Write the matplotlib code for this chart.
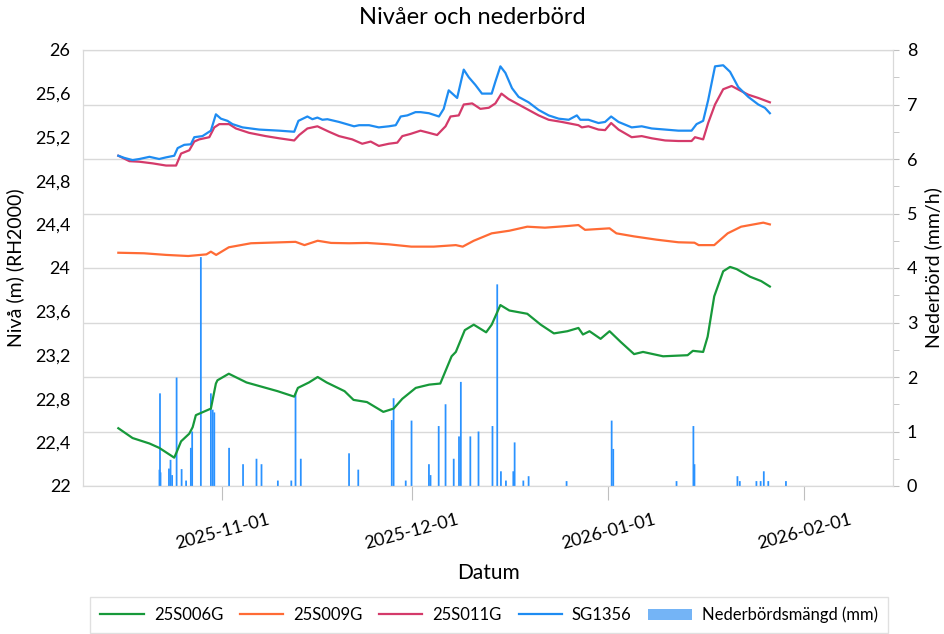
import matplotlib
matplotlib.use('Agg')
import matplotlib.pyplot as plt
import matplotlib.dates as mdates
from matplotlib.patches import Patch
from matplotlib.ticker import MultipleLocator, FuncFormatter
import pandas as pd

plt.rcParams['font.family'] = ['Lato', 'DejaVu Sans']

# 25S006G
t_006 = ['2025-10-15 14:00', '2025-10-17 20:00', '2025-10-20 12:00', '2025-10-22 01:00',
         '2025-10-24 10:00', '2025-10-24 19:00', '2025-10-25 12:00', '2025-10-26 19:00',
         '2025-10-27 08:00', '2025-10-27 20:00', '2025-10-29 10:00', '2025-10-30 05:00',
         '2025-10-31 00:00', '2025-10-31 06:00', '2025-11-02 01:00', '2025-11-04 20:00',
         '2025-11-09 18:00', '2025-11-12 09:00', '2025-11-12 23:00', '2025-11-14 17:00',
         '2025-11-16 02:00', '2025-11-17 12:00', '2025-11-20 08:00', '2025-11-21 18:00',
         '2025-11-23 21:00', '2025-11-26 11:00', '2025-11-28 02:00', '2025-11-29 11:00',
         '2025-12-01 14:00', '2025-12-03 17:00', '2025-12-05 11:00', '2025-12-07 06:00',
         '2025-12-07 22:00', '2025-12-09 08:00', '2025-12-10 18:00', '2025-12-12 17:00',
         '2025-12-13 14:00', '2025-12-14 23:00', '2025-12-16 09:00', '2025-12-19 05:00',
         '2025-12-21 08:00', '2025-12-23 10:00', '2025-12-25 13:00', '2025-12-27 07:00',
         '2025-12-28 00:00', '2025-12-29 01:00', '2025-12-30 19:00', '2026-01-01 05:00',
         '2026-01-03 00:00', '2026-01-05 02:00', '2026-01-06 12:00', '2026-01-09 16:00',
         '2026-01-13 13:00', '2026-01-14 09:00', '2026-01-16 00:00', '2026-01-16 17:00',
         '2026-01-17 18:00', '2026-01-19 04:00', '2026-01-20 06:00', '2026-01-21 07:00',
         '2026-01-23 10:00', '2026-01-25 04:00', '2026-01-26 13:00']
niva_006 = [22.53, 22.44, 22.39, 22.35, 22.26, 22.31, 22.41, 22.48,
            22.54, 22.65, 22.69, 22.71, 22.94, 22.97, 23.03, 22.95,
            22.87, 22.82, 22.90, 22.95, 23.00, 22.95, 22.87, 22.79,
            22.77, 22.68, 22.71, 22.80, 22.90, 22.93, 22.94, 23.19,
            23.23, 23.43, 23.48, 23.41, 23.48, 23.66, 23.61, 23.58,
            23.48, 23.40, 23.42, 23.45, 23.39, 23.42, 23.35, 23.42,
            23.32, 23.21, 23.23, 23.19, 23.20, 23.24, 23.23, 23.37,
            23.74, 23.97, 24.01, 23.99, 23.92, 23.88, 23.83]

# 25S009G
t_009 = ['2025-10-15 14:00', '2025-10-19 15:00', '2025-10-23 04:00', '2025-10-26 15:00',
         '2025-10-29 12:00', '2025-10-30 05:00', '2025-10-31 01:00', '2025-11-02 01:00',
         '2025-11-05 13:00', '2025-11-12 14:00', '2025-11-14 00:00', '2025-11-16 02:00',
         '2025-11-18 05:00', '2025-11-21 01:00', '2025-11-23 21:00', '2025-11-27 08:00',
         '2025-11-30 21:00', '2025-12-04 10:00', '2025-12-07 22:00', '2025-12-09 00:00',
         '2025-12-10 18:00', '2025-12-13 14:00', '2025-12-16 09:00', '2025-12-19 05:00',
         '2025-12-22 00:00', '2025-12-25 13:00', '2025-12-27 07:00', '2025-12-28 08:00',
         '2026-01-01 05:00', '2026-01-02 07:00', '2026-01-05 02:00', '2026-01-08 15:00',
         '2026-01-12 02:00', '2026-01-14 15:00', '2026-01-15 07:00', '2026-01-17 18:00',
         '2026-01-19 21:00', '2026-01-22 00:00', '2026-01-25 12:00', '2026-01-26 13:00']
niva_009 = [24.14, 24.135, 24.12, 24.11,
            24.125, 24.15, 24.12, 24.19,
            24.227, 24.24, 24.21, 24.25,
            24.23, 24.227, 24.23, 24.217,
            24.196, 24.196, 24.21, 24.196,
            24.25, 24.318, 24.342, 24.379,
            24.37, 24.385, 24.394, 24.35,
            24.364, 24.318, 24.29, 24.26,
            24.236, 24.232, 24.21, 24.21,
            24.318, 24.379, 24.416, 24.40]

# 25S011G
t_011 = ['2025-10-15 14:00', '2025-10-17 08:00', '2025-10-18 22:00', '2025-10-21 00:00',
         '2025-10-23 03:00', '2025-10-24 17:00', '2025-10-25 12:00', '2025-10-26 19:00',
         '2025-10-27 14:00', '2025-10-28 09:00', '2025-10-29 23:00', '2025-10-30 18:00',
         '2025-10-31 13:00', '2025-11-02 02:00', '2025-11-03 04:00', '2025-11-05 06:00',
         '2025-11-07 21:00', '2025-11-10 00:00', '2025-11-12 09:00', '2025-11-13 04:00',
         '2025-11-14 11:00', '2025-11-16 01:00', '2025-11-17 21:00', '2025-11-19 11:00',
         '2025-11-21 13:00', '2025-11-23 03:00', '2025-11-24 11:00', '2025-11-25 18:00',
         '2025-11-27 08:00', '2025-11-28 16:00', '2025-11-29 11:00', '2025-11-30 18:00',
         '2025-12-02 08:00', '2025-12-03 16:00', '2025-12-04 23:00', '2025-12-06 07:00',
         '2025-12-07 02:00', '2025-12-08 09:00', '2025-12-09 04:00', '2025-12-10 12:00',
         '2025-12-11 19:00', '2025-12-13 03:00', '2025-12-14 04:00', '2025-12-15 03:00',
         '2025-12-16 06:00', '2025-12-17 20:00', '2025-12-19 10:00', '2025-12-21 00:00',
         '2025-12-22 14:00', '2025-12-24 16:00', '2025-12-27 07:00', '2025-12-27 20:00',
         '2025-12-28 21:00', '2025-12-30 11:00', '2025-12-31 12:00', '2026-01-01 11:00',
         '2026-01-02 15:00', '2026-01-04 17:00', '2026-01-06 07:00', '2026-01-07 21:00',
         '2026-01-10 00:00', '2026-01-12 02:00', '2026-01-14 04:00', '2026-01-14 17:00',
         '2026-01-16 00:00', '2026-01-16 19:00', '2026-01-17 21:00', '2026-01-19 04:00',
         '2026-01-20 12:00', '2026-01-21 19:00', '2026-01-23 03:00', '2026-01-24 17:00',
         '2026-01-26 13:00']
niva_011 = [25.03, 24.98, 24.975, 24.96,
            24.94, 24.94, 25.05, 25.08,
            25.16, 25.18, 25.20, 25.29,
            25.32, 25.32, 25.28, 25.24,
            25.21, 25.19, 25.17, 25.22,
            25.28, 25.30, 25.25, 25.21,
            25.18, 25.14, 25.16, 25.12,
            25.14, 25.15, 25.21, 25.23,
            25.26, 25.24, 25.22, 25.30,
            25.39, 25.40, 25.50, 25.51,
            25.46, 25.47, 25.51, 25.60,
            25.55, 25.50, 25.45, 25.40,
            25.36, 25.34, 25.31, 25.29,
            25.30, 25.27, 25.265, 25.33,
            25.27, 25.20, 25.21, 25.19,
            25.17, 25.165, 25.165, 25.20,
            25.18, 25.33, 25.50, 25.64,
            25.67, 25.63, 25.59, 25.56,
            25.52]

# SG1356
t_sg = ['2025-10-15 14:00', '2025-10-16 13:00', '2025-10-17 20:00', '2025-10-18 22:00',
        '2025-10-20 12:00', '2025-10-22 01:00', '2025-10-23 03:00', '2025-10-24 10:00',
        '2025-10-24 23:00', '2025-10-26 00:00', '2025-10-27 01:00', '2025-10-27 14:00',
        '2025-10-28 21:00', '2025-10-30 05:00', '2025-10-31 00:00', '2025-10-31 19:00',
        '2025-11-01 20:00', '2025-11-02 15:00', '2025-11-04 05:00', '2025-11-06 20:00',
        '2025-11-10 00:00', '2025-11-12 09:00', '2025-11-13 01:00', '2025-11-14 11:00',
        '2025-11-15 06:00', '2025-11-16 01:00', '2025-11-16 20:00', '2025-11-17 15:00',
        '2025-11-19 11:00', '2025-11-21 20:00', '2025-11-22 15:00', '2025-11-24 05:00',
        '2025-11-25 18:00', '2025-11-27 08:00', '2025-11-28 10:00', '2025-11-29 05:00',
        '2025-11-30 06:00', '2025-12-01 13:00', '2025-12-02 08:00', '2025-12-03 16:00',
        '2025-12-05 06:00', '2025-12-06 00:00', '2025-12-06 19:00', '2025-12-08 03:00',
        '2025-12-09 04:00', '2025-12-09 23:00', '2025-12-11 00:00', '2025-12-12 01:00',
        '2025-12-13 14:00', '2025-12-14 04:00', '2025-12-14 23:00', '2025-12-15 18:00',
        '2025-12-16 19:00', '2025-12-17 20:00', '2025-12-19 10:00', '2025-12-21 00:00',
        '2025-12-22 14:00', '2025-12-24 04:00', '2025-12-25 18:00', '2025-12-27 01:00',
        '2025-12-27 14:00', '2025-12-28 21:00', '2025-12-30 11:00', '2025-12-31 12:00',
        '2026-01-01 11:00', '2026-01-02 15:00', '2026-01-04 17:00', '2026-01-06 07:00',
        '2026-01-07 21:00', '2026-01-10 00:00', '2026-01-12 02:00', '2026-01-14 04:00',
        '2026-01-14 23:00', '2026-01-16 00:00', '2026-01-16 19:00', '2026-01-17 21:00',
        '2026-01-19 04:00', '2026-01-20 06:00', '2026-01-21 13:00', '2026-01-23 03:00',
        '2026-01-24 17:00', '2026-01-25 18:00', '2026-01-26 13:00']
niva_sg = [25.03, 25.01, 24.99, 25.00,
           25.02, 25.00, 25.015, 25.03,
           25.10, 25.13, 25.135, 25.20,
           25.21, 25.26, 25.41, 25.37,
           25.35, 25.32, 25.29, 25.27,
           25.26, 25.25, 25.35, 25.39,
           25.365, 25.38, 25.36, 25.365,
           25.34, 25.30, 25.31, 25.31,
           25.29, 25.30, 25.31, 25.39,
           25.40, 25.43, 25.43, 25.42,
           25.39, 25.46, 25.63, 25.56,
           25.82, 25.75, 25.68, 25.60,
           25.60, 25.71, 25.85, 25.79,
           25.65, 25.57, 25.52, 25.45,
           25.40, 25.37, 25.36, 25.40,
           25.36, 25.36, 25.33, 25.34,
           25.39, 25.34, 25.29, 25.30,
           25.28, 25.27, 25.26, 25.26,
           25.32, 25.35, 25.54, 25.85,
           25.86, 25.80, 25.66, 25.57,
           25.50, 25.47, 25.42]

# Nederbörd (mm/h)
t_regn = ['2025-10-22 02:00', '2025-10-22 04:00', '2025-10-22 06:00', '2025-10-23 14:00',
          '2025-10-23 20:00', '2025-10-24 02:00', '2025-10-24 19:00', '2025-10-25 14:00',
          '2025-10-26 07:00', '2025-10-27 01:00', '2025-10-27 06:00', '2025-10-28 15:00',
          '2025-10-30 05:00', '2025-10-30 12:00', '2025-10-30 18:00', '2025-11-02 02:00',
          '2025-11-04 07:00', '2025-11-06 10:00', '2025-11-07 05:00', '2025-11-09 19:00',
          '2025-11-11 22:00', '2025-11-12 14:00', '2025-11-13 10:00', '2025-11-21 01:00',
          '2025-11-22 12:00', '2025-11-27 19:00', '2025-11-28 02:00', '2025-11-30 00:00',
          '2025-11-30 22:00', '2025-12-03 16:00', '2025-12-03 22:00', '2025-12-05 05:00',
          '2025-12-06 07:00', '2025-12-07 14:00', '2025-12-08 10:00', '2025-12-08 17:00',
          '2025-12-10 05:00', '2025-12-11 12:00', '2025-12-13 17:00', '2025-12-14 11:00',
          '2025-12-15 01:00', '2025-12-15 20:00', '2025-12-17 00:00', '2025-12-17 05:00',
          '2025-12-18 14:00', '2025-12-19 10:00', '2025-12-25 10:00', '2026-01-01 13:00',
          '2026-01-01 19:00', '2026-01-11 19:00', '2026-01-14 11:00', '2026-01-14 15:00',
          '2026-01-21 10:00', '2026-01-21 19:00', '2026-01-24 10:00', '2026-01-25 02:00',
          '2026-01-25 14:00', '2026-01-26 07:00', '2026-01-29 02:00']
regn = [0.30, 1.70, 0.25, 0.32,
        0.48, 0.20, 1.99, 0.31,
        0.10, 0.70, 1.00, 4.20,
        1.70, 1.40, 1.35, 0.70,
        0.40, 0.50, 0.40, 0.10,
        0.10, 1.70, 0.50, 0.60,
        0.30, 1.21, 1.61, 0.10,
        1.20, 0.40, 0.20, 1.10,
        1.50, 0.50, 0.91, 1.91,
        0.91, 1.00, 1.10, 3.70,
        0.27, 0.10, 0.27, 0.80,
        0.10, 0.18, 0.09, 1.20,
        0.68, 0.09, 1.10, 0.40,
        0.18, 0.09, 0.09, 0.09,
        0.27, 0.09, 0.09]

serier = [('25S006G', t_006, niva_006, '#17993A'),
          ('25S009G', t_009, niva_009, '#FF6B35'),
          ('25S011G', t_011, niva_011, '#D43A6A'),
          ('SG1356', t_sg, niva_sg, '#1E8CF2')]

grid_c = '#D9D9D9'
tick_c = '#BFBFBF'

fig = plt.figure(figsize=(9.44, 6.34), dpi=100)
ax = fig.add_axes([83 / 944, 1 - 486 / 634, 810 / 944, 436 / 634])
ax2 = ax.twinx()
ax.set_zorder(ax2.get_zorder() + 1)
ax.patch.set_visible(False)

staplar = ax2.bar(pd.to_datetime(t_regn), regn, width=0.28, color='#2A92FF', linewidth=0)
for s in staplar:
    s.set_snap(False)

handles = []
for namn, t, v, c in serier:
    h, = ax.plot(pd.to_datetime(t), v, color=c, lw=1.6)
    handles.append(h)
handles.append(Patch(facecolor='#74B4F6', edgecolor='none'))
labels = [s[0] for s in serier] + ['Nederbördsmängd (mm)']

ax.set_xlim(pd.Timestamp('2025-10-10'), pd.Timestamp('2026-02-15'))
ax.set_ylim(22, 26)
ax2.set_ylim(0, 8)

ax.yaxis.set_major_locator(MultipleLocator(0.4))
ax.yaxis.set_major_formatter(FuncFormatter(
    lambda v, p: f'{v:.1f}'.rstrip('0').rstrip('.').replace('.', ',')))
ax.tick_params(axis='y', length=0, labelsize=13, pad=9)

ax2.yaxis.set_major_locator(MultipleLocator(1))
ax2.yaxis.set_minor_locator(MultipleLocator(0.5))
ax2.tick_params(axis='y', which='both', length=4, color=tick_c, labelsize=13, pad=6)
ax2.grid(axis='y', which='major', color=grid_c, lw=1)
ax2.set_axisbelow(True)

ax.xaxis.set_major_locator(mdates.MonthLocator(bymonthday=1))
ax.xaxis.set_major_formatter(mdates.DateFormatter('%Y-%m-%d'))
ax.tick_params(axis='x', length=10, color=tick_c, labelsize=13, pad=8)
plt.setp(ax.get_xticklabels(), rotation=15, ha='center')

for a in (ax, ax2):
    for s in a.spines.values():
        s.set_color(grid_c)

ax.set_xlabel('Datum', fontsize=15, labelpad=8)
ax.set_ylabel('Nivå (m) (RH2000)', fontsize=14, labelpad=8)
ax2.set_ylabel('Nederbörd (mm/h)', fontsize=14, labelpad=5)

fig.text(0.5, 1 - 18 / 634, 'Nivåer och nederbörd', ha='center', va='center', fontsize=17)

fig.legend(handles, labels, loc='center', bbox_to_anchor=(0.518, 0.03),
           ncol=5, fontsize=12, frameon=True, fancybox=False, edgecolor=grid_c,
           handlelength=2.6, handletextpad=0.6, columnspacing=1.0, borderpad=0.6)

fig.savefig('out.png', dpi=100)
